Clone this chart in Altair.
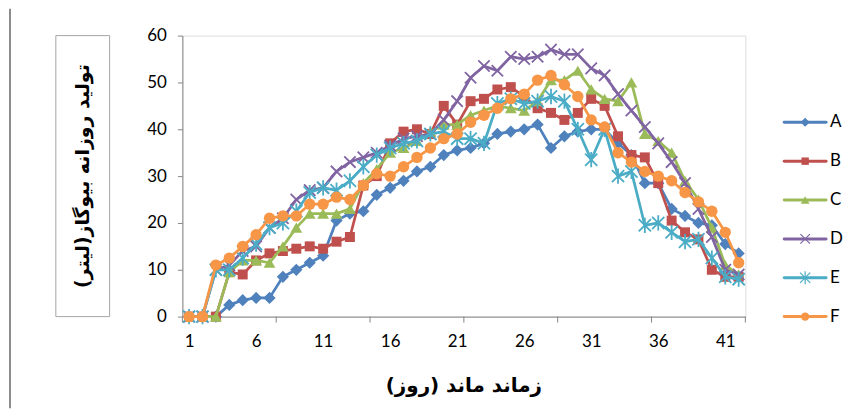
import altair as alt
import pandas as pd

days = list(range(1, 43))
series_names = ["A", "B", "C", "D", "E", "F"]

A = [0, 0, 0, 2.5, 3.5, 4, 4, 8.5, 10, 11.5, 13, 20.5, 22, 22.5, 26, 27.5, 29, 31, 32, 34.5, 35.5,
     36, 37, 39, 39.5, 40, 41, 36, 38.5, 39.5, 40, 40, 37, 34.5, 28.5, 28.5, 23, 21.5, 20, 19.5, 15.5, 13.5]
B = [0, 0, 0, 9.5, 9, 12, 13.5, 14, 14.5, 15, 14.5, 16, 17, 28, 30, 37, 39.5, 40, 39, 45, 41,
     46, 46.5, 48.5, 49, 47, 44.5, 43.5, 42, 43.5, 46.5, 45, 38.5, 34.5, 34, 28.5, 20.5, 18, 16.5, 10, 8.5, 8.5]
C = [0, 0, 0, 9.5, 12, 12, 11.5, 15, 19, 22, 22, 22, 23, 28.5, 31.5, 35, 36, 37.5, 39.5, 41, 41,
     43, 44, 45, 44.5, 44, 46, 50.5, 50.5, 52.5, 48.5, 46.5, 46, 50, 39, 37.5, 35, 29, 25, 19, 11, 9]
D = [0, 0, 10, 11, 14, 15, 19, 21, 25, 27, 27.5, 31, 33, 34, 35, 36.5, 38, 38.5, 39, 42, 46,
     51, 53.5, 52.5, 55.5, 55, 55.5, 57, 56, 56, 53, 51.5, 47.5, 44, 40.5, 37, 33, 28.5, 23, 17, 10, 9]
E = [0, 0, 10, 10, 12.5, 15.5, 19, 20, 22.5, 26.5, 27.5, 27, 29, 32, 34.5, 36, 37, 37.5, 39, 39.5, 38,
     38, 37, 45.5, 46.5, 45.5, 46, 47, 46, 40, 33.5, 40, 30, 31, 19.5, 20, 18, 16, 16.5, 12.5, 8.5, 8]
F = [0, 0, 11, 12.5, 15, 17.5, 21, 21.5, 21.5, 24, 24, 25.5, 25, 28, 30.5, 30, 32, 34, 36, 38, 39,
     41.5, 43, 44.5, 46.5, 47.5, 50.5, 51.5, 49.5, 47, 42, 40.5, 35, 33, 31, 30, 29, 26.5, 24.5, 22.5, 18, 11.5]

x_labels = [1, 6, 11, 16, 21, 26, 31, 36, 41]
x_tick_bounds = [0.5, 7.5, 14.5, 21.5, 28.5, 35.5, 42.5]
y_ticks = [0, 10, 20, 30, 40, 50, 60]

x_title = "زماند ماند (روز)\u200f"
y_title = "تولید روزانه بیوگاز(لیتر)\u200f"

colors = ["#4F81BD", "#C0504D", "#9BBB59", "#8064A2", "#4BACC6", "#F79646"]
X_PATH = "M-1,-1L1,1M-1,1L1,-1"
AST_PATH = "M-1,-1L1,1M-1,1L1,-1M0,-1.25L0,1.25"
shapes = ["diamond", "square", "triangle-up", X_PATH, AST_PATH, "circle"]
sizes = [150, 100, 140, 130, 150, 130]
filled = [True, True, True, False, False, True]

values = {"A": A, "B": B, "C": C, "D": D, "E": E, "F": F}
rows = []
for s in series_names:
    for d, v in zip(days, values[s]):
        rows.append({"day": d, "value": v, "series": s})
df = pd.DataFrame(rows)

W, H = 565, 282
FONT = "Lato"
AX = "#868686"

color_scale = alt.Scale(domain=series_names, range=colors)
x_scale = alt.Scale(domain=[0.5, 42.5], nice=False, zero=False)
y_scale = alt.Scale(domain=[0, 60], nice=False)

x_enc = alt.X("day:Q", scale=x_scale,
              axis=alt.Axis(values=x_labels, ticks=False, tickSize=0, grid=False, title=None,
                            domainColor=AX, domainWidth=1, labelFont=FONT, labelFontSize=17,
                            labelColor="black", labelPadding=17, labelFlush=False))
y_enc = alt.Y("value:Q", scale=y_scale,
              axis=alt.Axis(values=y_ticks, grid=False, title=None, domainColor=AX, tickColor=AX,
                            tickSize=5, labelFont=FONT, labelFontSize=17, labelColor="black",
                            labelPadding=11))

layers = []
for i, s in enumerate(series_names):
    base = alt.Chart(df).transform_filter(alt.datum.series == s).encode(
        x=x_enc, y=y_enc,
        color=alt.Color("series:N", scale=color_scale, legend=None))
    line = base.mark_line(strokeWidth=2.75, strokeJoin="round", strokeCap="round")
    if filled[i]:
        pts = base.mark_point(shape=shapes[i], size=sizes[i], filled=True, opacity=1)
    else:
        pts = base.mark_point(shape=shapes[i], size=sizes[i], filled=False, opacity=1, strokeWidth=1.8)
    layers += [line, pts]

ticks_df = pd.DataFrame({"b": x_tick_bounds})
ticks = alt.Chart(ticks_df).mark_rule(color=AX, strokeWidth=1).encode(
    x=alt.X("b:Q", scale=x_scale), y=alt.value(H), y2=alt.value(H + 6))

one = pd.DataFrame({"k": [0]})
ybox = alt.Chart(one).mark_rect(fillOpacity=0, stroke="#A6A6A6", strokeWidth=1).encode(
    x=alt.value(-127), x2=alt.value(-73), y=alt.value(0), y2=alt.value(H))
ytitle = alt.Chart(one).mark_text(angle=270, font="DejaVu Sans", fontWeight="bold", fontSize=19,
                                  color="black", baseline="middle", align="center").encode(
    x=alt.value(-100), y=alt.value(H / 2), text=alt.value(y_title))
xtitle = alt.Chart(one).mark_text(font="DejaVu Sans", fontWeight="bold", fontSize=20,
                                  color="black", baseline="middle", align="center").encode(
    x=alt.value(W / 2), y=alt.value(352), text=alt.value(x_title))
frame = alt.Chart(one).mark_rule(color="#8C8C8C", strokeWidth=2).encode(
    x=alt.value(-173), y=alt.value(-27), y2=alt.value(H + 92))

main = alt.layer(*layers, ticks, ybox, ytitle, xtitle, frame)

# custom legend
leg_df = pd.DataFrame({"series": series_names})
leg_y = alt.Y("series:N", scale=alt.Scale(type="point", domain=series_names, range=[87, 282], padding=0),
              axis=None)
LX = 604
leg_layers = []
for i, s in enumerate(series_names):
    lb = alt.Chart(leg_df).transform_filter(alt.datum.series == s).encode(
        y=leg_y, color=alt.Color("series:N", scale=color_scale, legend=None))
    leg_layers.append(lb.mark_rule(strokeWidth=3, strokeCap="round").encode(
        x=alt.value(LX), x2=alt.value(LX + 42)))
    if filled[i]:
        leg_layers.append(lb.mark_point(shape=shapes[i], size=sizes[i] * 0.55, filled=True, opacity=1).encode(
            x=alt.value(LX + 21)))
    else:
        leg_layers.append(lb.mark_point(shape=shapes[i], size=sizes[i] * 0.7, filled=False, opacity=1,
                                        strokeWidth=1.2).encode(x=alt.value(LX + 21)))
leg_text = alt.Chart(leg_df).mark_text(align="left", baseline="middle", font=FONT, fontSize=17,
                                       color="black").encode(y=leg_y, x=alt.value(LX + 46), text="series:N")
legend = alt.layer(*leg_layers, leg_text)

chart = alt.layer(main, legend).resolve_scale(y="independent").properties(
    width=W, height=H, autosize=alt.AutoSizeParams(type="none"),
    padding={"left": 175, "top": 27, "right": 102, "bottom": 92}
).configure_view(stroke=None).configure(background="white")

chart.save("out.html", embed_options={"renderer": "svg", "actions": False})
